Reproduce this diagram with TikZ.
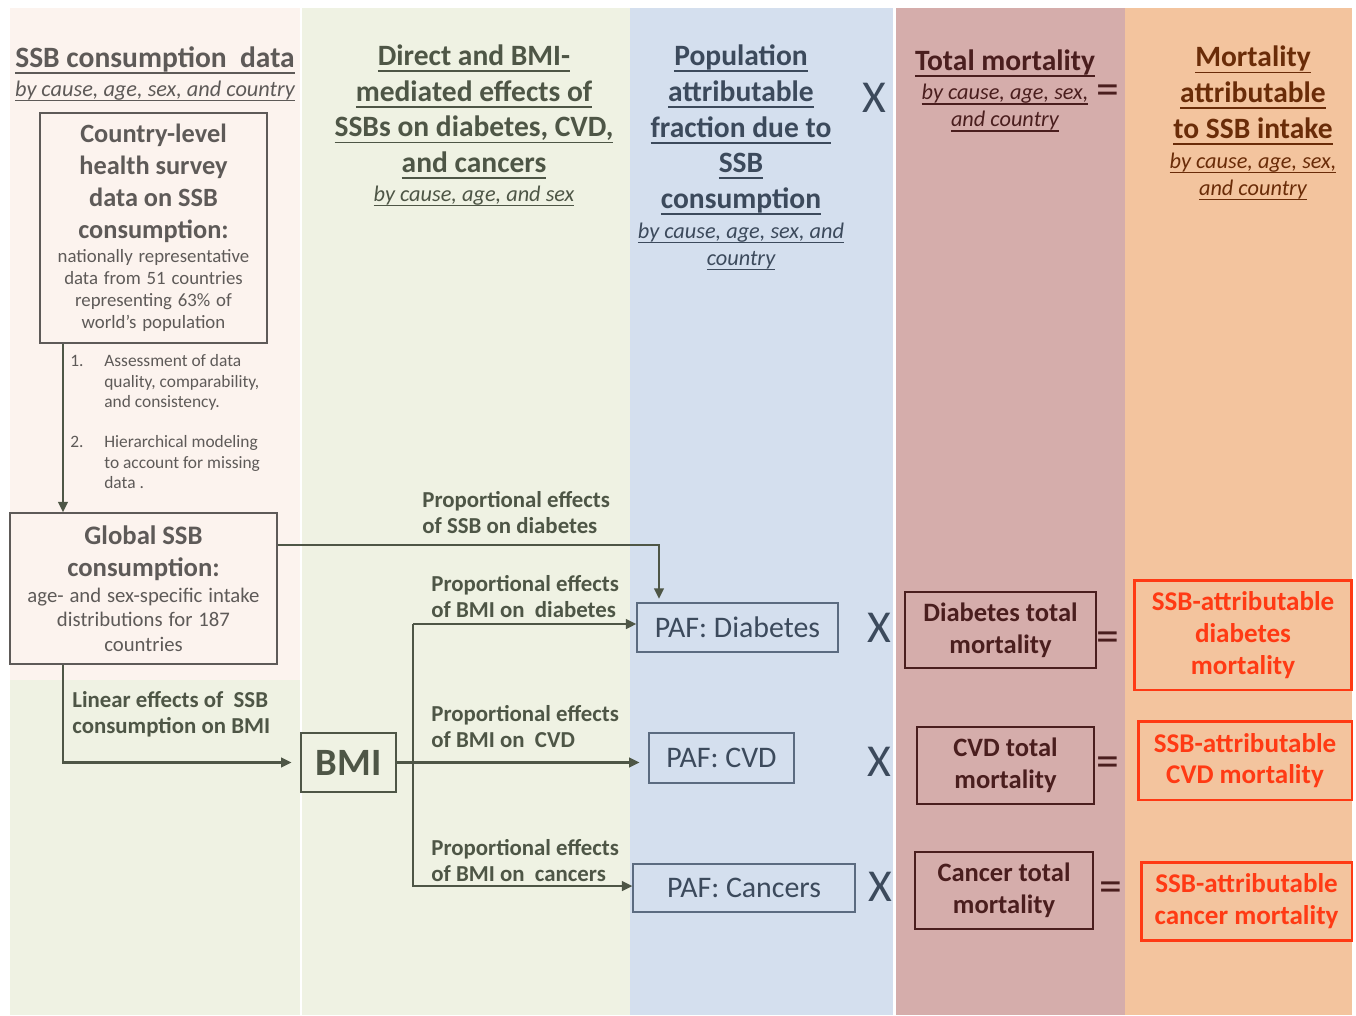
\documentclass[tikz,border=0pt]{standalone}
\usepackage{fontspec}
\setmainfont{Carlito}
\usetikzlibrary{positioning,arrows.meta}
\definecolor{BgPink}{HTML}{FCF3EE}
\definecolor{BgGreen}{HTML}{EFF2E3}
\definecolor{BgBlue}{HTML}{D4DFEE}
\definecolor{BgMauve}{HTML}{D5ADAB}
\definecolor{BgPeach}{HTML}{F3C49E}
\definecolor{InkGray}{HTML}{5E5A58}
\definecolor{InkGreen}{HTML}{4E5646}
\definecolor{InkBlue}{HTML}{3C4A5C}
\definecolor{PafLine}{HTML}{5B6B80}
\definecolor{InkMaroon}{HTML}{4A1E1E}
\definecolor{InkBrown}{HTML}{6A2C08}
\definecolor{AlertRed}{HTML}{FF3A14}
% underline drawn as a rule, thicker than \underline
\newcommand{\hdl}[1]{\setbox0\hbox{#1}\leavevmode\rlap{\raisebox{-0.22em}{\rule{\wd0}{0.065em}}}\box0}

\begin{document}
\begin{tikzpicture}[
  x=0.02cm, y=-0.02cm,
  hd/.style={align=center,font=\fontsize{16.8}{20.3}\selectfont\bfseries,inner sep=0pt},
  sub/.style={align=center,font=\fontsize{12.7}{15.4}\selectfont\itshape,inner sep=0pt},
  box/.style={draw,line width=0.7pt,align=center,inner sep=0pt},
  paf/.style={box,draw=PafLine,font=\fontsize{17}{19}\selectfont,text=InkBlue},
  tot/.style={box,draw=InkMaroon,font=\fontsize{15.1}{18}\selectfont\bfseries,text=InkMaroon},
  att/.style={box,draw=AlertRed,line width=1.7pt,font=\fontsize{15.4}{18}\selectfont\bfseries,text=AlertRed},
  lbl/.style={align=left,anchor=west,font=\fontsize{13}{14.8}\selectfont\bfseries,text=InkGreen,inner sep=0pt},
  op/.style={font=\fontsize{26}{26}\selectfont,inner sep=0pt},
  ar/.style={-{Triangle[length=6pt,width=5.5pt]},line width=1.3pt,draw=InkGreen},
]
\useasboundingbox (0,0) rectangle (1356,1015);
% column backgrounds
\fill[BgPink] (10,8) rectangle (300,680);
\fill[BgGreen] (10,680) rectangle (300,1015);
\fill[BgGreen] (302,8) rectangle (630,1015);
\fill[BgBlue] (630,8) rectangle (893,1015);
\fill[BgMauve] (896,8) rectangle (1125,1015);
\fill[BgPeach] (1125,8) rectangle (1352,1015);

% headers
\node[hd,text=InkGray] (h1) at (155,60) {\hdl{SSB consumption\ \ data}};
\node[sub,text=InkGray] (s1) at (155,91) {\hdl{by cause, age, sex, and country}};
\node[hd,text=InkGreen] (h2) at (474,112)
  {\hdl{Direct and BMI-}\\\hdl{mediated effects of}\\\hdl{SSBs on diabetes, CVD,}\\\hdl{and cancers}};
\node[sub,text=InkGreen] (s2) at (474,196) {\hdl{by cause, age, and sex}};
\node[hd,text=InkBlue] (h3) at (741,130)
  {\hdl{Population}\\\hdl{attributable}\\\hdl{fraction due to}\\\hdl{SSB}\\\hdl{consumption}};
\node[sub,text=InkBlue] (s3) at (741,246.5) {\hdl{by cause, age, sex, and}\\\hdl{country}};
\node[hd,text=InkMaroon] (h4) at (1005,63) {\hdl{Total mortality}};
\node[sub,text=InkMaroon] (s4) at (1005,108) {\hdl{by cause, age, sex,}\\\hdl{and country}};
\node[hd,text=InkBrown] (h5) at (1253,95.5)
  {\hdl{Mortality}\\\hdl{attributable}\\\hdl{to SSB intake}};
\node[sub,text=InkBrown] (s5) at (1253,176.5) {\hdl{by cause, age, sex,}\\\hdl{and country}};
\node[op,text=InkBlue] (x0) at (874,98) {X};
\node[op,text=InkMaroon] (e0) at (1108,95) {=};

% data boxes
\node[box,draw=InkGray,text=InkGray,minimum width=4.54cm,minimum height=4.6cm,text width=4.34cm] (country) at (153.5,228)
  {{\fontsize{15}{18.2}\selectfont\bfseries Country-level\\ health survey\\ data on SSB\\ consumption:\par}\vspace{1pt}%
   {\fontsize{10.7}{12.5}\selectfont nationally representative\\ data from 51 countries\\ representing 63\% of\\ world’s population\par}};
\node[anchor=north west,inner sep=0pt,font=\fontsize{9.9}{11.7}\selectfont,text=InkGray] (steps) at (70,352)
  {\begin{tabular}{@{}p{0.68cm}@{}l@{}}
   1. & Assessment of data\\ & quality, comparability,\\ & and consistency.\\[11pt]
   2. & Hierarchical modeling\\ & to account for missing\\ & data .
   \end{tabular}};
\node[box,draw=InkGray,fill=BgPink,text=InkGray,minimum width=5.34cm,minimum height=3.02cm,text width=5.14cm] (global) at (143.5,588.5)
  {{\fontsize{15.2}{18.2}\selectfont\bfseries Global SSB\\ consumption:\par}\vspace{1pt}%
   {\fontsize{11.8}{14}\selectfont age- and sex-specific intake\\ distributions for 187\\ countries\par}};
\node[box,draw=InkGreen,fill=BgGreen,minimum width=1.9cm,minimum height=1.18cm,font=\fontsize{22}{22}\selectfont\bfseries,text=InkGreen] (bmi) at (348.5,762.5) {BMI};

% PAF, totals and results
\node[paf,minimum width=4.02cm,minimum height=0.98cm] (pafd) at (737.5,627.5) {PAF: Diabetes};
\node[paf,minimum width=2.9cm,minimum height=1.0cm] (pafc) at (721.5,758) {PAF: CVD};
\node[paf,minimum width=4.44cm,minimum height=0.96cm] (pafk) at (744,888) {PAF: Cancers};
\node[tot,minimum width=3.82cm,minimum height=1.52cm] (totd) at (1000.5,630) {Diabetes total\\mortality};
\node[tot,minimum width=3.54cm,minimum height=1.54cm] (totc) at (1005.5,765.5) {CVD total\\mortality};
\node[tot,minimum width=3.56cm,minimum height=1.54cm] (totk) at (1004,890.5) {Cancer total\\mortality};
\node[att,minimum width=4.36cm,minimum height=2.2cm] (attd) at (1243,635) {SSB-attributable\\diabetes\\mortality};
\node[att,minimum width=4.28cm,minimum height=1.58cm] (attc) at (1245,760.5) {SSB-attributable\\CVD mortality};
\node[att,minimum width=4.22cm,minimum height=1.56cm] (attk) at (1246.5,901) {SSB-attributable\\cancer mortality};
\node[op,text=InkBlue] (x1) at (879,628) {X};
\node[op,text=InkBlue] (x2) at (879,762) {X};
\node[op,text=InkBlue] (x3) at (880,887) {X};
\node[op,text=InkMaroon] (e1) at (1108,642) {=};
\node[op,text=InkMaroon] (e2) at (1108,767) {=};
\node[op,text=InkMaroon] (e3) at (1111,892) {=};

% arrow labels
\node[lbl] (l0) at (422,513) {Proportional effects\\of SSB on diabetes};
\node[lbl] (l1) at (431,597) {Proportional effects\\of BMI on\ \ diabetes};
\node[lbl] (l2) at (431,726.5) {Proportional effects\\of BMI on\ \ CVD};
\node[lbl] (l3) at (431,861) {Proportional effects\\of BMI on\ \ cancers};
\node[lbl] (l4) at (72,714.5) {Linear effects of\ \ SSB\\consumption on BMI};

% connectors
\coordinate (vx) at (63,0);
\coordinate (sd) at (659,545);
\coordinate (bt) at (413,624);
\coordinate (bb) at (413,886);
\draw[ar] (country.south -| vx) -- (global.north -| vx);
\draw[ar,shorten >=2pt] (global.east |- sd) -- (sd) -- (pafd.north -| sd);
\draw[ar,shorten >=5pt] (global.south -| vx) |- (bmi.west);
\draw[ar,shorten >=5pt] (bmi.east) -- (bmi.east -| pafc.west);
\draw[ar] (bt) -- (bt -| pafd.west);
\draw[ar] (bt) -- (bb) -- (bb -| pafk.west);
\end{tikzpicture}
\end{document}
